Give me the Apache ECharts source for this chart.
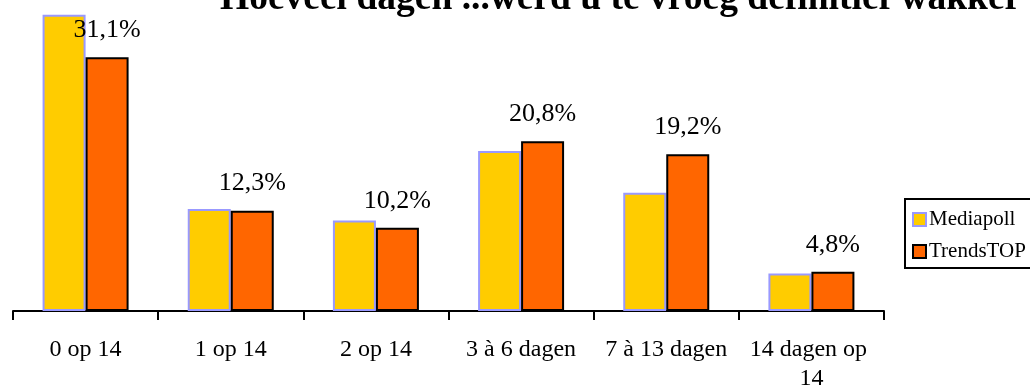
<!DOCTYPE html>
<html>
<head>
<meta charset="utf-8">
<script src="https://cdn.jsdelivr.net/npm/echarts@6/dist/echarts.min.js"></script>
<style>
  html, body { margin: 0; padding: 0; background: #fff; }
  #chart { width: 1030px; height: 387px; }
</style>
</head>
<body>
<div id="chart"></div>
<script>
const titleText = 'Hoeveel dagen ...werd u te vroeg definitief wakker';
const categories = ['0 op 14', '1 op 14', '2 op 14', '3 à 6 dagen', '7 à 13 dagen', '14 dagen op 14'];
const seriesNames = ['Mediapoll', 'TrendsTOP'];
const mediapoll = [36.3, 12.5, 11.1, 19.6, 14.5, 4.6];
const trendsTop = [31.1, 12.3, 10.2, 20.8, 19.2, 4.8];

const serif = '"Liberation Serif", "DejaVu Serif", serif';
const pct = v => v.toFixed(1).replace('.', ',') + '%';

const chart = echarts.init(document.getElementById('chart'), null, { renderer: 'canvas' });
chart.setOption({
  animation: false,
  backgroundColor: '#ffffff',
  title: {
    text: titleText,
    left: 220,
    top: -20,
    padding: 0,
    textStyle: { fontFamily: serif, fontWeight: 'bold', fontSize: 37.5, color: '#000' }
  },
  legend: {
    orient: 'vertical',
    left: 905,
    top: 199,
    padding: [10, 40, 6, 7],
    itemGap: 11,
    itemWidth: 13,
    itemHeight: 13,
    borderColor: '#000',
    borderWidth: 2,
    borderRadius: 0,
    icon: 'rect',
    textStyle: { fontFamily: serif, fontSize: 21, color: '#000', padding: [0, 0, 0, -2] },
    data: seriesNames
  },
  grid: { left: 13, right: 146, top: 1, bottom: 76, containLabel: false, outerBoundsMode: 'none' },
  xAxis: {
    type: 'category',
    data: categories,
    axisLine: { show: true, lineStyle: { color: '#000', width: 2 } },
    axisTick: { show: true, length: 9, interval: 0, lineStyle: { color: '#000', width: 2 } },
    axisLabel: {
      fontFamily: serif, fontSize: 24, color: '#000', margin: 24,
      lineHeight: 29, width: 140, overflow: 'break', interval: 0, hideOverlap: false
    }
  },
  yAxis: { type: 'value', min: 0, max: 38, show: false, splitLine: { show: false } },
  series: [
    {
      name: seriesNames[0],
      type: 'bar',
      data: mediapoll,
      barWidth: 43,
      barGap: '0%',
      itemStyle: { color: '#FFCC00', borderColor: '#9999FF', borderWidth: 2 }
    },
    {
      name: seriesNames[1],
      type: 'bar',
      data: trendsTop,
      barWidth: 43,
      barGap: '0%',
      itemStyle: { color: '#FF6600', borderColor: '#000000', borderWidth: 2 },
      label: {
        show: true,
        position: 'top',
        distance: 14,
        fontFamily: serif,
        fontSize: 26,
        color: '#000',
        formatter: p => pct(p.value)
      }
    }
  ]
});
</script>
</body>
</html>
